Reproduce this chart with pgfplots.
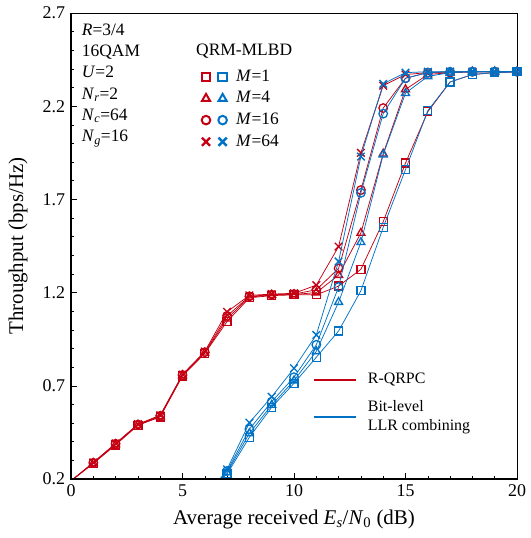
\documentclass[border=0pt]{standalone}
\usepackage{pgfplots}
\pgfplotsset{compat=1.18}
\usepackage{pgfplotstable}
\usepackage{fontspec}
\setmainfont{Liberation Serif}
\definecolor{cred}{RGB}{196,0,18}
\definecolor{cblue}{RGB}{0,114,198}

\pgfplotstableread{
x sq tri circ cross
0 0.190 0.190 0.190 0.190
1 0.283 0.285 0.287 0.289
2 0.383 0.386 0.389 0.391
3 0.488 0.490 0.492 0.494
4 0.533 0.536 0.539 0.542
5 0.753 0.756 0.758 0.761
6 0.874 0.877 0.880 0.884
7 1.045 1.060 1.075 1.097
8 1.172 1.176 1.180 1.185
9 1.184 1.187 1.189 1.192
10 1.188 1.190 1.192 1.196
11 1.188 1.200 1.215 1.240
12 1.235 1.294 1.330 1.447
13 1.325 1.520 1.750 1.950
14 1.580 1.945 2.190 2.310
15 1.895 2.290 2.350 2.370
16 2.170 2.370 2.380 2.380
17 2.330 2.380 2.380 2.385
18 2.370 2.385 2.385 2.385
19 2.380 2.385 2.385 2.385
20 2.385 2.385 2.385 2.385
}\redtab

\pgfplotstableread{
x sq tri circ cross
6 0.120 0.110 0.100 0.090
7 0.227 0.235 0.243 0.252
8 0.424 0.445 0.467 0.502
9 0.585 0.597 0.615 0.641
10 0.713 0.728 0.746 0.794
11 0.853 0.885 0.920 0.973
12 0.994 1.149 1.230 1.367
13 1.210 1.470 1.735 1.930
14 1.550 1.940 2.160 2.320
15 1.860 2.270 2.350 2.380
16 2.176 2.360 2.380 2.385
17 2.330 2.380 2.385 2.385
18 2.370 2.385 2.385 2.385
19 2.380 2.385 2.385 2.385
20 2.385 2.385 2.385 2.385
}\bluetab

\pgfplotsset{
  redplot/.style={cred, line width=0.75pt, mark indices={1,...,20}, mark options={solid, line width=1.3pt}},
  blueplot/.style={cblue, line width=0.75pt, mark indices={1,...,14}, mark options={solid, line width=1.3pt}},
}

\begin{document}
\fontsize{17.5}{21}\selectfont
\begin{tikzpicture}
\begin{axis}[name=ax, scale only axis, width=446bp, height=466bp,
  xmin=0, xmax=20, ymin=0.2, ymax=2.7,
  xtick={0,5,...,20}, ytick={0.2,0.7,1.2,1.7,2.2,2.7},
  minor x tick num=4, minor y tick num=4,
  tick pos=left, tick align=inside,
  major tick length=6bp, minor tick length=3.5bp,
  every tick/.style={black, line width=0.6pt},
  axis line style={line width=0.6pt},
  /pgf/number format/assume math mode=true,
  yticklabel style={/pgf/number format/fixed, /pgf/number format/fixed zerofill, /pgf/number format/precision=1},
  tick label style={font=\fontsize{18}{21}\selectfont},
  label style={font=\fontsize{21}{24}\selectfont},
  xlabel={Average received \textit{E}\textsubscript{\textit{s}}/\textit{N}\textsubscript{0} (dB)},
  ylabel={Throughput (bps/Hz)},
  xlabel style={yshift=-1bp},
  ylabel style={yshift=3bp},
  clip mode=individual,
  legend style={at={(axis description cs:0.286,0.887)}, anchor=north west, draw=none, fill=none,
    font=\fontsize{17.5}{21}\selectfont, row sep=3.5bp, cells={anchor=west},
    /tikz/every odd column/.append style={column sep=0bp}},
  legend cell align=left,
  after end axis/.code={\draw[line width=1.3pt] (rel axis cs:0,1) -- (rel axis cs:0,0) -- (rel axis cs:1,0);},
]
% red series
\addplot[redplot, mark=square, mark size=4pt, forget plot] table[x=x,y=sq] {\redtab};
\addplot[redplot, mark=triangle, mark size=4.6pt, forget plot] table[x=x,y=tri] {\redtab};
\addplot[redplot, mark=o, mark size=4.3pt, forget plot] table[x=x,y=circ] {\redtab};
\addplot[redplot, mark=x, mark size=5.4pt, forget plot] table[x=x,y=cross] {\redtab};
% blue series
\addplot[blueplot, mark=square, mark size=4pt, forget plot] table[x=x,y=sq] {\bluetab};
\addplot[blueplot, mark=triangle, mark size=4.6pt, forget plot] table[x=x,y=tri] {\bluetab};
\addplot[blueplot, mark=o, mark size=4.3pt, forget plot] table[x=x,y=circ] {\bluetab};
\addplot[blueplot, mark=x, mark size=5.4pt, forget plot] table[x=x,y=cross] {\bluetab};
% marker legend
\addlegendimage{legend image code/.code={
  \draw[cred, line width=2pt, mark=square, mark size=4.2pt] plot coordinates {(0bp,0bp)};
  \draw[cblue, line width=2pt, mark=square, mark size=4.2pt] plot coordinates {(16.6bp,0bp)};
  \path (28bp,0bp);}}
\addlegendentry{\textit{M}=1}
\addlegendimage{legend image code/.code={
  \draw[cred, line width=2pt, mark=triangle, mark size=4.6pt] plot coordinates {(0bp,0bp)};
  \draw[cblue, line width=2pt, mark=triangle, mark size=4.6pt] plot coordinates {(16.6bp,0bp)};
  \path (28bp,0bp);}}
\addlegendentry{\textit{M}=4}
\addlegendimage{legend image code/.code={
  \draw[cred, line width=2pt, mark=o, mark size=4.3pt] plot coordinates {(0bp,0bp)};
  \draw[cblue, line width=2pt, mark=o, mark size=4.3pt] plot coordinates {(16.6bp,0bp)};
  \path (28bp,0bp);}}
\addlegendentry{\textit{M}=16}
\addlegendimage{legend image code/.code={
  \draw[cred, line width=2.4pt, mark=x, mark size=5.8pt] plot coordinates {(0bp,0bp)};
  \draw[cblue, line width=2.4pt, mark=x, mark size=5.8pt] plot coordinates {(16.6bp,0bp)};
  \path (28bp,0bp);}}
\addlegendentry{\textit{M}=64}
\end{axis}

\begin{axis}[at={(ax.south west)}, anchor=south west, scale only axis, width=446bp, height=466bp,
  hide axis, xmin=0, xmax=1, ymin=0, ymax=1,
  legend style={at={(axis description cs:0.535,0.236)}, anchor=north west, draw=none, fill=none,
    font=\fontsize{16}{19.5}\selectfont, row sep=10bp, cells={anchor=west, align=left},
    /tikz/every odd column/.append style={column sep=0bp}},
  legend image code/.code={\draw[#1, line width=1.8pt] (0bp,0bp) -- (42bp,0bp); \path (52bp,0bp);},
]
\addlegendimage{cred}
\addlegendentry{R-QRPC}
\addlegendimage{cblue}
\addlegendentry{Bit-level\\LLR combining}
\end{axis}

\node[anchor=base west, inner sep=0pt] at ([shift={(10.7bp,-22.5bp)}]ax.north west) {\textit{R}=3/4};
\node[anchor=base west, inner sep=0pt] at ([shift={(10.7bp,-43.7bp)}]ax.north west) {16QAM};
\node[anchor=base west, inner sep=0pt] at ([shift={(10.7bp,-64.9bp)}]ax.north west) {\textit{U}=2};
\node[anchor=base west, inner sep=0pt] at ([shift={(10.7bp,-86.1bp)}]ax.north west) {\textit{N}\textsubscript{\textit{r}}=2};
\node[anchor=base west, inner sep=0pt] at ([shift={(10.7bp,-107.3bp)}]ax.north west) {\textit{N}\textsubscript{\textit{c}}=64};
\node[anchor=base west, inner sep=0pt] at ([shift={(10.7bp,-128.5bp)}]ax.north west) {\textit{N}\textsubscript{\textit{g}}=16};
\node[anchor=base west, inner sep=0pt] at ([shift={(125bp,-42.3bp)}]ax.north west) {QRM-MLBD};

\pgfresetboundingbox
\path[use as bounding box] ([shift={(-71bp,-59bp)}]ax.south west) rectangle ([shift={(14bp,13bp)}]ax.north east);
\end{tikzpicture}
\end{document}
